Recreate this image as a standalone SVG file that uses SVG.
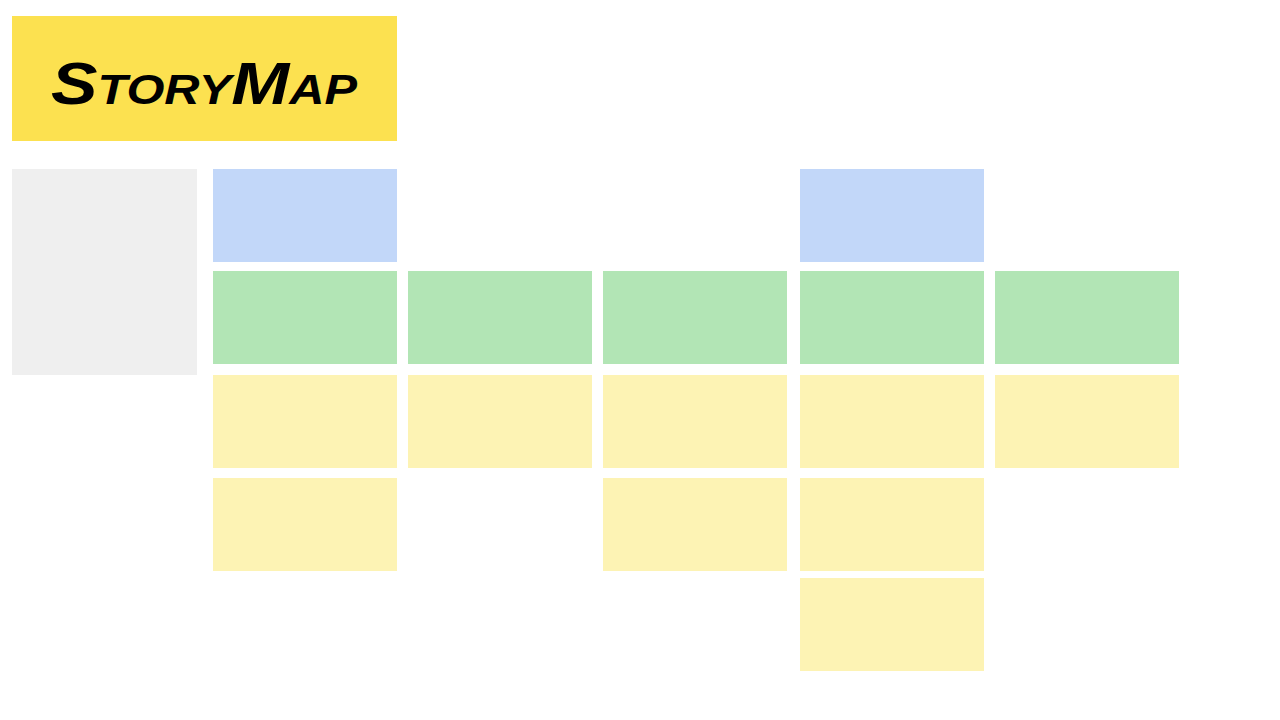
<svg xmlns="http://www.w3.org/2000/svg" width="1280" height="720" viewBox="0 0 1280 720">
<style>
.title{fill:#fce150}
.grey{fill:#efefef}
.blue{fill:#c2d7f9}
.green{fill:#b2e5b5}
.story{fill:#fdf3b4}
.t{font-family:"Liberation Sans",Arial,sans-serif;font-weight:bold;font-style:italic;font-variant:small-caps;fill:#000}
</style>
<rect width="1280" height="720" fill="#ffffff"/>
<g id="title">
<rect class="title" x="12" y="16" width="385" height="125"/>
<text class="t" x="204" y="104" font-size="60" text-anchor="middle" textLength="306" lengthAdjust="spacingAndGlyphs">StoryMap</text>
</g>
<g id="legend"><rect class="grey" x="12" y="169" width="185" height="206"/></g>
<g id="epic1"><rect class="blue" x="213" y="169" width="184" height="93"/></g>
<g id="epic2"><rect class="blue" x="800" y="169" width="184" height="93"/></g>
<g id="activity1"><rect class="green" x="213" y="271" width="184" height="93"/></g>
<g id="activity2"><rect class="green" x="408" y="271" width="184" height="93"/></g>
<g id="activity3"><rect class="green" x="603" y="271" width="184" height="93"/></g>
<g id="activity4"><rect class="green" x="800" y="271" width="184" height="93"/></g>
<g id="activity5"><rect class="green" x="995" y="271" width="184" height="93"/></g>
<g id="story1a"><rect class="story" x="213" y="375" width="184" height="93"/></g>
<g id="story2a"><rect class="story" x="408" y="375" width="184" height="93"/></g>
<g id="story3a"><rect class="story" x="603" y="375" width="184" height="93"/></g>
<g id="story4a"><rect class="story" x="800" y="375" width="184" height="93"/></g>
<g id="story5a"><rect class="story" x="995" y="375" width="184" height="93"/></g>
<g id="story1b"><rect class="story" x="213" y="478" width="184" height="93"/></g>
<g id="story3b"><rect class="story" x="603" y="478" width="184" height="93"/></g>
<g id="story4b"><rect class="story" x="800" y="478" width="184" height="93"/></g>
<g id="story4c"><rect class="story" x="800" y="578" width="184" height="93"/></g>
<g id="connectors"></g>
</svg>
